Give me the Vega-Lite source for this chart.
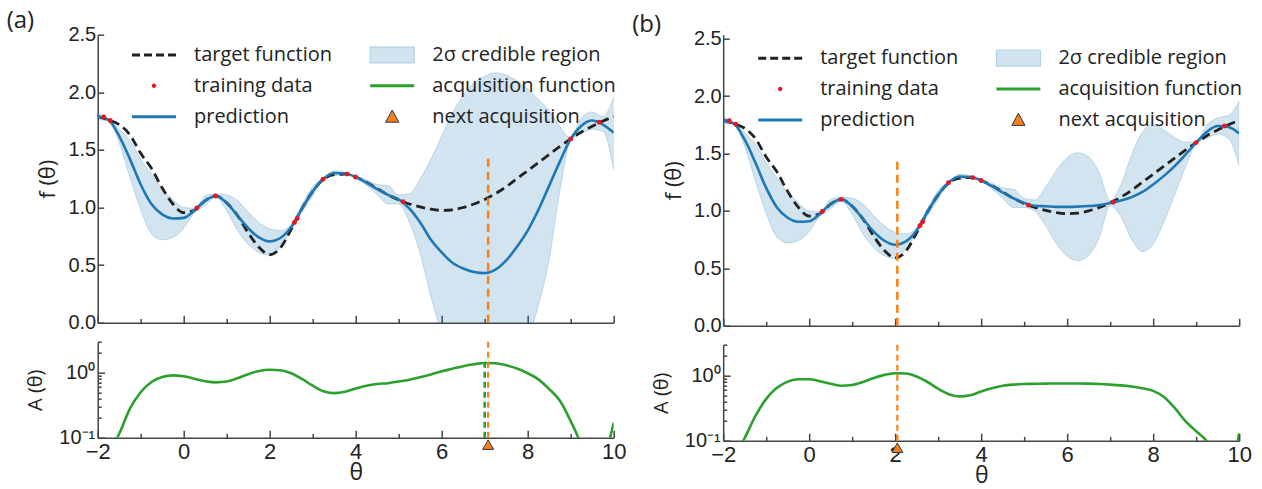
{
"$schema": "https://vega.github.io/schema/vega-lite/v6.json",
"background": "white",
"padding": {"left": 6.7, "top": 8.7, "right": 0, "bottom": 0},
"config": {
  "view": {"stroke": null},
  "axis": {"grid": false, "domainColor": "#444", "domainWidth": 1.5, "tickColor": "#444", "tickWidth": 1.5, "labelFont": "Liberation Sans", "labelColor": "#222", "titleFont": "Open Sans", "titleFontWeight": "normal", "titleColor": "#222"},
  "title": {"font": "Open Sans", "fontWeight": "normal", "fontSize": 24, "color": "#222"},
  "legend": {"title": null, "orient": "none", "columns": 2, "symbolSize": 400, "symbolStrokeWidth": 1, "symbolOpacity": 1, "labelFont": "Open Sans", "labelFontSize": 20, "labelColor": "#222", "labelOffset": 29.5, "labelLimit": 400, "rowPadding": 10, "columnPadding": 35.2, "padding": 0}
},
"datasets": {
  "curveA": [
    {"t": -2, "target": 1.79, "pred": 1.79, "lo": 1.76, "hi": 1.82},
    {"t": -1.75, "target": 1.76, "pred": 1.76, "lo": 1.755, "hi": 1.768},
    {"t": -1.5, "target": 1.72, "pred": 1.62, "lo": 1.56, "hi": 1.68},
    {"t": -1.25, "target": 1.63, "pred": 1.42, "lo": 1.26, "hi": 1.58},
    {"t": -1, "target": 1.47, "pred": 1.2, "lo": 0.98, "hi": 1.42},
    {"t": -0.75, "target": 1.34, "pred": 1.03, "lo": 0.77, "hi": 1.29},
    {"t": -0.5, "target": 1.17, "pred": 0.94, "lo": 0.72, "hi": 1.16},
    {"t": -0.25, "target": 1.03, "pred": 0.905, "lo": 0.74, "hi": 1.07},
    {"t": 0, "target": 0.955, "pred": 0.91, "lo": 0.82, "hi": 1.0},
    {"t": 0.25, "target": 0.975, "pred": 0.975, "lo": 0.955, "hi": 0.995},
    {"t": 0.5, "target": 1.06, "pred": 1.06, "lo": 1.02, "hi": 1.1},
    {"t": 0.75, "target": 1.1, "pred": 1.1, "lo": 1.085, "hi": 1.12},
    {"t": 1, "target": 1.04, "pred": 1.04, "lo": 0.97, "hi": 1.11},
    {"t": 1.25, "target": 0.93, "pred": 0.93, "lo": 0.8, "hi": 1.06},
    {"t": 1.5, "target": 0.78, "pred": 0.82, "lo": 0.68, "hi": 0.96},
    {"t": 1.75, "target": 0.655, "pred": 0.74, "lo": 0.61, "hi": 0.87},
    {"t": 2, "target": 0.59, "pred": 0.705, "lo": 0.585, "hi": 0.815},
    {"t": 2.25, "target": 0.65, "pred": 0.735, "lo": 0.665, "hi": 0.8},
    {"t": 2.5, "target": 0.81, "pred": 0.83, "lo": 0.805, "hi": 0.855},
    {"t": 2.75, "target": 0.99, "pred": 0.99, "lo": 0.96, "hi": 1.02},
    {"t": 3, "target": 1.14, "pred": 1.14, "lo": 1.1, "hi": 1.18},
    {"t": 3.25, "target": 1.245, "pred": 1.25, "lo": 1.245, "hi": 1.255},
    {"t": 3.5, "target": 1.285, "pred": 1.3, "lo": 1.275, "hi": 1.32},
    {"t": 3.75, "target": 1.29, "pred": 1.295, "lo": 1.285, "hi": 1.305},
    {"t": 4, "target": 1.265, "pred": 1.265, "lo": 1.26, "hi": 1.27},
    {"t": 4.25, "target": 1.22, "pred": 1.215, "lo": 1.19, "hi": 1.24},
    {"t": 4.5, "target": 1.165, "pred": 1.16, "lo": 1.11, "hi": 1.2},
    {"t": 4.75, "target": 1.11, "pred": 1.11, "lo": 1.03, "hi": 1.19},
    {"t": 5, "target": 1.065, "pred": 1.07, "lo": 1.03, "hi": 1.11},
    {"t": 5.25, "target": 1.03, "pred": 0.99, "lo": 0.87, "hi": 1.12},
    {"t": 5.5, "target": 1.005, "pred": 0.87, "lo": 0.6, "hi": 1.25},
    {"t": 5.75, "target": 0.985, "pred": 0.72, "lo": 0.22, "hi": 1.42},
    {"t": 6, "target": 0.975, "pred": 0.61, "lo": -0.1, "hi": 1.62},
    {"t": 6.25, "target": 0.98, "pred": 0.52, "lo": -0.5, "hi": 1.82},
    {"t": 6.5, "target": 1.0, "pred": 0.47, "lo": -0.9, "hi": 1.97},
    {"t": 6.75, "target": 1.03, "pred": 0.44, "lo": -1.1, "hi": 2.08},
    {"t": 7, "target": 1.07, "pred": 0.43, "lo": -1.2, "hi": 2.14},
    {"t": 7.25, "target": 1.12, "pred": 0.46, "lo": -1.1, "hi": 2.17},
    {"t": 7.5, "target": 1.18, "pred": 0.54, "lo": -0.8, "hi": 2.15},
    {"t": 7.75, "target": 1.25, "pred": 0.66, "lo": -0.45, "hi": 2.1},
    {"t": 8, "target": 1.32, "pred": 0.8, "lo": -0.15, "hi": 2.03},
    {"t": 8.25, "target": 1.39, "pred": 0.98, "lo": 0.15, "hi": 1.94},
    {"t": 8.5, "target": 1.46, "pred": 1.19, "lo": 0.55, "hi": 1.84},
    {"t": 8.75, "target": 1.53, "pred": 1.4, "lo": 1.15, "hi": 1.7},
    {"t": 9, "target": 1.595, "pred": 1.595, "lo": 1.585, "hi": 1.605},
    {"t": 9.25, "target": 1.655, "pred": 1.71, "lo": 1.64, "hi": 1.78},
    {"t": 9.5, "target": 1.705, "pred": 1.755, "lo": 1.68, "hi": 1.83},
    {"t": 9.75, "target": 1.75, "pred": 1.72, "lo": 1.66, "hi": 1.79},
    {"t": 10, "target": 1.79, "pred": 1.65, "lo": 1.33, "hi": 1.96}
  ],
  "curveB": [
    {"t": -2, "target": 1.79, "pred": 1.79, "lo": 1.76, "hi": 1.82},
    {"t": -1.75, "target": 1.76, "pred": 1.76, "lo": 1.755, "hi": 1.768},
    {"t": -1.5, "target": 1.72, "pred": 1.62, "lo": 1.56, "hi": 1.68},
    {"t": -1.25, "target": 1.63, "pred": 1.42, "lo": 1.26, "hi": 1.58},
    {"t": -1, "target": 1.47, "pred": 1.2, "lo": 0.98, "hi": 1.42},
    {"t": -0.75, "target": 1.34, "pred": 1.03, "lo": 0.77, "hi": 1.29},
    {"t": -0.5, "target": 1.17, "pred": 0.94, "lo": 0.72, "hi": 1.16},
    {"t": -0.25, "target": 1.03, "pred": 0.905, "lo": 0.74, "hi": 1.07},
    {"t": 0, "target": 0.955, "pred": 0.91, "lo": 0.82, "hi": 1.0},
    {"t": 0.25, "target": 0.975, "pred": 0.975, "lo": 0.955, "hi": 0.995},
    {"t": 0.5, "target": 1.06, "pred": 1.06, "lo": 1.02, "hi": 1.1},
    {"t": 0.75, "target": 1.1, "pred": 1.1, "lo": 1.085, "hi": 1.12},
    {"t": 1, "target": 1.04, "pred": 1.04, "lo": 0.97, "hi": 1.11},
    {"t": 1.25, "target": 0.93, "pred": 0.93, "lo": 0.8, "hi": 1.06},
    {"t": 1.5, "target": 0.78, "pred": 0.82, "lo": 0.68, "hi": 0.96},
    {"t": 1.75, "target": 0.655, "pred": 0.74, "lo": 0.61, "hi": 0.87},
    {"t": 2, "target": 0.59, "pred": 0.705, "lo": 0.585, "hi": 0.815},
    {"t": 2.25, "target": 0.65, "pred": 0.735, "lo": 0.665, "hi": 0.8},
    {"t": 2.5, "target": 0.81, "pred": 0.83, "lo": 0.805, "hi": 0.855},
    {"t": 2.75, "target": 0.99, "pred": 0.99, "lo": 0.96, "hi": 1.02},
    {"t": 3, "target": 1.14, "pred": 1.14, "lo": 1.1, "hi": 1.18},
    {"t": 3.25, "target": 1.245, "pred": 1.25, "lo": 1.245, "hi": 1.255},
    {"t": 3.5, "target": 1.285, "pred": 1.3, "lo": 1.275, "hi": 1.32},
    {"t": 3.75, "target": 1.29, "pred": 1.295, "lo": 1.285, "hi": 1.305},
    {"t": 4, "target": 1.265, "pred": 1.265, "lo": 1.26, "hi": 1.27},
    {"t": 4.25, "target": 1.22, "pred": 1.215, "lo": 1.19, "hi": 1.24},
    {"t": 4.5, "target": 1.165, "pred": 1.16, "lo": 1.11, "hi": 1.2},
    {"t": 4.75, "target": 1.11, "pred": 1.11, "lo": 1.03, "hi": 1.19},
    {"t": 5, "target": 1.065, "pred": 1.07, "lo": 1.03, "hi": 1.11},
    {"t": 5.25, "target": 1.03, "pred": 1.045, "lo": 0.995, "hi": 1.095},
    {"t": 5.5, "target": 1.005, "pred": 1.04, "lo": 0.87, "hi": 1.21},
    {"t": 5.75, "target": 0.985, "pred": 1.035, "lo": 0.715, "hi": 1.355},
    {"t": 6, "target": 0.975, "pred": 1.035, "lo": 0.605, "hi": 1.465},
    {"t": 6.25, "target": 0.98, "pred": 1.037, "lo": 0.567, "hi": 1.507},
    {"t": 6.5, "target": 1.0, "pred": 1.042, "lo": 0.612, "hi": 1.472},
    {"t": 6.75, "target": 1.03, "pred": 1.05, "lo": 0.77, "hi": 1.33},
    {"t": 7, "target": 1.07, "pred": 1.068, "lo": 1.045, "hi": 1.09},
    {"t": 7.25, "target": 1.12, "pred": 1.09, "lo": 0.95, "hi": 1.23},
    {"t": 7.5, "target": 1.18, "pred": 1.12, "lo": 0.75, "hi": 1.49},
    {"t": 7.75, "target": 1.25, "pred": 1.165, "lo": 0.645, "hi": 1.685},
    {"t": 8, "target": 1.32, "pred": 1.23, "lo": 0.71, "hi": 1.75},
    {"t": 8.25, "target": 1.39, "pred": 1.305, "lo": 0.905, "hi": 1.705},
    {"t": 8.5, "target": 1.46, "pred": 1.39, "lo": 1.14, "hi": 1.64},
    {"t": 8.75, "target": 1.53, "pred": 1.49, "lo": 1.38, "hi": 1.6},
    {"t": 9, "target": 1.595, "pred": 1.595, "lo": 1.585, "hi": 1.605},
    {"t": 9.25, "target": 1.655, "pred": 1.69, "lo": 1.63, "hi": 1.75},
    {"t": 9.5, "target": 1.705, "pred": 1.74, "lo": 1.67, "hi": 1.81},
    {"t": 9.75, "target": 1.75, "pred": 1.73, "lo": 1.63, "hi": 1.83},
    {"t": 10, "target": 1.79, "pred": 1.675, "lo": 1.395, "hi": 1.955}
  ],
  "acqA": [
    {"t": -2, "a": 0.02}, {"t": -1.75, "a": 0.055}, {"t": -1.5, "a": 0.115}, {"t": -1.25, "a": 0.28},
    {"t": -1, "a": 0.5}, {"t": -0.75, "a": 0.72}, {"t": -0.5, "a": 0.86}, {"t": -0.25, "a": 0.91},
    {"t": 0, "a": 0.88}, {"t": 0.25, "a": 0.81}, {"t": 0.5, "a": 0.74}, {"t": 0.75, "a": 0.71},
    {"t": 1, "a": 0.73}, {"t": 1.25, "a": 0.82}, {"t": 1.5, "a": 0.95}, {"t": 1.75, "a": 1.06},
    {"t": 2, "a": 1.11}, {"t": 2.25, "a": 1.09}, {"t": 2.5, "a": 0.98}, {"t": 2.75, "a": 0.8},
    {"t": 3, "a": 0.63}, {"t": 3.25, "a": 0.52}, {"t": 3.5, "a": 0.485}, {"t": 3.75, "a": 0.51},
    {"t": 4, "a": 0.57}, {"t": 4.25, "a": 0.63}, {"t": 4.5, "a": 0.67}, {"t": 4.75, "a": 0.69},
    {"t": 5, "a": 0.73}, {"t": 5.25, "a": 0.78}, {"t": 5.5, "a": 0.85}, {"t": 5.75, "a": 0.94},
    {"t": 6, "a": 1.05}, {"t": 6.25, "a": 1.15}, {"t": 6.5, "a": 1.26}, {"t": 6.75, "a": 1.35},
    {"t": 7, "a": 1.41}, {"t": 7.25, "a": 1.4}, {"t": 7.5, "a": 1.3}, {"t": 7.75, "a": 1.16},
    {"t": 8, "a": 0.98}, {"t": 8.25, "a": 0.79}, {"t": 8.5, "a": 0.56}, {"t": 8.75, "a": 0.37},
    {"t": 9, "a": 0.18}, {"t": 9.25, "a": 0.075}, {"t": 9.5, "a": 0.02}, {"t": 9.75, "a": 0.04},
    {"t": 10, "a": 0.17}
  ],
  "acqB": [
    {"t": -2, "a": 0.02}, {"t": -1.75, "a": 0.055}, {"t": -1.5, "a": 0.11}, {"t": -1.25, "a": 0.24},
    {"t": -1, "a": 0.44}, {"t": -0.75, "a": 0.65}, {"t": -0.5, "a": 0.81}, {"t": -0.25, "a": 0.88},
    {"t": 0, "a": 0.88}, {"t": 0.25, "a": 0.82}, {"t": 0.5, "a": 0.75}, {"t": 0.75, "a": 0.7},
    {"t": 1, "a": 0.72}, {"t": 1.25, "a": 0.8}, {"t": 1.5, "a": 0.92}, {"t": 1.75, "a": 1.03},
    {"t": 2, "a": 1.09}, {"t": 2.25, "a": 1.08}, {"t": 2.5, "a": 0.97}, {"t": 2.75, "a": 0.8},
    {"t": 3, "a": 0.63}, {"t": 3.25, "a": 0.52}, {"t": 3.5, "a": 0.48}, {"t": 3.75, "a": 0.5},
    {"t": 4, "a": 0.57}, {"t": 4.25, "a": 0.64}, {"t": 4.5, "a": 0.7}, {"t": 4.75, "a": 0.73},
    {"t": 5, "a": 0.745}, {"t": 5.25, "a": 0.75}, {"t": 5.5, "a": 0.755}, {"t": 5.75, "a": 0.76},
    {"t": 6, "a": 0.76}, {"t": 6.25, "a": 0.76}, {"t": 6.5, "a": 0.755}, {"t": 6.75, "a": 0.745},
    {"t": 7, "a": 0.73}, {"t": 7.25, "a": 0.71}, {"t": 7.5, "a": 0.68}, {"t": 7.75, "a": 0.64},
    {"t": 8, "a": 0.585}, {"t": 8.25, "a": 0.47}, {"t": 8.5, "a": 0.32}, {"t": 8.75, "a": 0.2},
    {"t": 9, "a": 0.14}, {"t": 9.25, "a": 0.098}, {"t": 9.5, "a": 0.05}, {"t": 9.75, "a": 0.03},
    {"t": 10, "a": 0.13}
  ],
  "trainA": [
    {"t": -1.86, "f": 1.785}, {"t": -1.71, "f": 1.755}, {"t": 0.305, "f": 0.995}, {"t": 0.74, "f": 1.1},
    {"t": 2.575, "f": 0.87}, {"t": 2.64, "f": 0.905}, {"t": 3.24, "f": 1.245}, {"t": 3.8, "f": 1.29},
    {"t": 3.995, "f": 1.265}, {"t": 5.1, "f": 1.05}, {"t": 9.0, "f": 1.595}, {"t": 9.66, "f": 1.74}
  ],
  "trainB": [
    {"t": -1.86, "f": 1.785}, {"t": -1.71, "f": 1.755}, {"t": 0.305, "f": 0.995}, {"t": 0.74, "f": 1.1},
    {"t": 2.575, "f": 0.87}, {"t": 2.64, "f": 0.905}, {"t": 3.24, "f": 1.245}, {"t": 3.8, "f": 1.29},
    {"t": 3.995, "f": 1.265}, {"t": 5.1, "f": 1.05}, {"t": 7.07, "f": 1.075}, {"t": 9.0, "f": 1.595}, {"t": 9.66, "f": 1.74}
  ],
  "nextA": [{"t": 7.08, "f0": 0, "f1": 1.45, "a0": 0.1, "a1": 3}],
  "nextB": [{"t": 2.05, "f0": 0, "f1": 1.45, "a0": 0.1, "a1": 3}],
  "maxA": [{"t": 7.0, "a0": 0.1, "a1": 1.41}],
  "legendItems": [
    {"item": "target function"}, {"item": "training data"}, {"item": "prediction"},
    {"item": "2σ credible region"}, {"item": "acquisition function"}, {"item": "next acquisition"}
  ]
},
"hconcat": [
  {
    "vconcat": [
      {
        "width": 516, "height": 288,
        "title": {"text": "(a)", "anchor": "start", "frame": "group", "dx": -91, "offset": 0, "baseline": "alphabetic", "dy": 27.2},
        "layer": [
          {"data": {"name": "curveA"},
           "mark": {"type": "area", "clip": true, "interpolate": "monotone", "fill": "#1f77b4", "fillOpacity": 0.2, "stroke": "#1f77b4", "strokeOpacity": 0.22, "strokeWidth": 1},
           "encoding": {
             "x": {"field": "t", "type": "quantitative", "scale": {"domain": [-2, 10], "nice": false, "zero": false},
                   "axis": {"title": null, "labels": false, "values": [-2, -1, 0, 1, 2, 3, 4, 5, 6, 7, 8, 9, 10], "tickSize": {"condition": {"test": "datum.value % 2 === 0", "value": -7.5}, "value": -4.3}}},
             "y": {"field": "lo", "type": "quantitative", "scale": {"domain": [0, 2.5], "nice": false, "zero": false},
                   "axis": {"title": "f (θ)", "values": [0, 0.5, 1, 1.5, 2, 2.5], "format": ".1f", "tickSize": -6, "labelPadding": 8, "labelFontSize": 20, "titleFontSize": 22, "titleX": -38}},
             "y2": {"field": "hi"}}},
          {"data": {"name": "curveA"},
           "mark": {"type": "line", "clip": true, "interpolate": "monotone", "color": "#222222", "strokeWidth": 2.8, "strokeDash": [9, 5]},
           "encoding": {"x": {"field": "t", "type": "quantitative"}, "y": {"field": "target", "type": "quantitative"}}},
          {"data": {"name": "curveA"},
           "mark": {"type": "line", "clip": true, "interpolate": "monotone", "color": "#1f77b4", "strokeWidth": 2.6},
           "encoding": {"x": {"field": "t", "type": "quantitative"}, "y": {"field": "pred", "type": "quantitative"}}},
          {"data": {"name": "nextA"},
           "mark": {"type": "rule", "color": "#ff7f0e", "strokeWidth": 2.5, "strokeDash": [8, 5]},
           "encoding": {"x": {"field": "t", "type": "quantitative"}, "y": {"field": "f0", "type": "quantitative"}, "y2": {"field": "f1"}}},
          {"data": {"name": "trainA"},
           "mark": {"type": "point", "filled": true, "color": "#e8161e", "size": 24, "opacity": 1},
           "encoding": {"x": {"field": "t", "type": "quantitative"}, "y": {"field": "f", "type": "quantitative"}}},
          {"data": {"name": "legendItems"},
           "mark": {"type": "point", "opacity": 0},
           "encoding": {
             "shape": {"field": "item", "type": "nominal",
               "scale": {"domain": ["target function", "training data", "prediction", "2σ credible region", "acquisition function", "next acquisition"],
                         "range": ["M-2.2,-0.15H-1.4V0.15H-2.2Z M-1,-0.15H-0.2V0.15H-1Z M0.2,-0.15H1V0.15H0.2Z M1.4,-0.15H2.2V0.15H1.4Z",
                                   "M-0.22,0A0.22,0.22,0,1,1,0.22,0A0.22,0.22,0,1,1,-0.22,0Z",
                                   "M-2.2,-0.15H2.2V0.15H-2.2Z",
                                   "M-2.2,-0.8H2.2V0.8H-2.2Z",
                                   "M-2.2,-0.15H2.2V0.15H-2.2Z",
                                   "M0,-0.66L0.66,0.55H-0.66Z"]},
               "legend": {"legendX": 45.8, "legendY": 9.5}},
             "fill": {"field": "item", "type": "nominal",
               "scale": {"domain": ["target function", "training data", "prediction", "2σ credible region", "acquisition function", "next acquisition"],
                         "range": ["#222222", "#e8161e", "#1f77b4", "#d2e3f0", "#2ca02c", "#f58220"]},
               "legend": {"legendX": 45.8, "legendY": 9.5}},
             "stroke": {"field": "item", "type": "nominal",
               "scale": {"domain": ["target function", "training data", "prediction", "2σ credible region", "acquisition function", "next acquisition"],
                         "range": ["transparent", "transparent", "transparent", "#a9cce6", "transparent", "#333333"]},
               "legend": {"legendX": 45.8, "legendY": 9.5}}}}
        ]
      },
      {
        "width": 516, "height": 96,
        "layer": [
          {"data": {"name": "acqA"},
           "mark": {"type": "line", "clip": true, "interpolate": "monotone", "color": "#2ca02c", "strokeWidth": 2.6},
           "encoding": {
             "x": {"field": "t", "type": "quantitative", "scale": {"domain": [-2, 10], "nice": false, "zero": false},
                   "axis": {"title": "θ", "values": [-2, -1, 0, 1, 2, 3, 4, 5, 6, 7, 8, 9, 10], "labelExpr": "datum.value % 2 === 0 ? datum.label : ''", "tickSize": {"condition": {"test": "datum.value % 2 === 0", "value": -7.5}, "value": -4.3}, "labelPadding": 11.2, "labelFontSize": 22, "labelFlush": false, "labelOverlap": false, "titleFontSize": 23, "titleY": 35, "titleBaseline": "middle"}},
             "y": {"field": "a", "type": "quantitative", "scale": {"type": "log", "domain": [0.1, 3], "nice": false},
                   "axis": {"title": "A (θ)", "values": [0.1, 0.2, 0.3, 0.4, 0.5, 0.6, 0.7, 0.8, 0.9, 1, 2, 3], "labelExpr": "datum.value === 1 ? '10⁰' : (datum.value === 0.1 ? '10⁻¹' : '')", "tickSize": {"condition": {"test": "datum.value === 1 || datum.value === 0.1", "value": -7}, "value": -3.5}, "labelPadding": 10, "labelFontSize": 20, "labelOverlap": false, "titleFontSize": 20, "titleX": -52}}}},
          {"data": {"name": "maxA"},
           "mark": {"type": "rule", "color": "#2ca02c", "strokeWidth": 2.6, "strokeDash": [6, 4]},
           "encoding": {"x": {"field": "t", "type": "quantitative"}, "y": {"field": "a0", "type": "quantitative"}, "y2": {"field": "a1"}}},
          {"data": {"name": "nextA"},
           "mark": {"type": "rule", "color": "#ff7f0e", "strokeWidth": 2.2, "strokeDash": [6, 4]},
           "encoding": {"x": {"field": "t", "type": "quantitative"}, "y": {"field": "a0", "type": "quantitative"}, "y2": {"field": "a1"}}},
          {"data": {"name": "nextA"},
           "mark": {"type": "point", "shape": "triangle-up", "filled": true, "fill": "#f58220", "stroke": "#333333", "strokeWidth": 1, "size": 120, "opacity": 1, "yOffset": 7},
           "encoding": {"x": {"field": "t", "type": "quantitative"}, "y": {"field": "a0", "type": "quantitative"}}}
        ]
      }
    ],
    "spacing": 19,
    "bounds": "flush",
    "resolve": {"scale": {"shape": "independent", "fill": "independent", "stroke": "independent"}}
  },
  {
    "vconcat": [
      {
        "width": 516, "height": 291,
        "title": {"text": "(b)", "anchor": "start", "frame": "group", "dx": -91, "offset": 0, "baseline": "alphabetic", "dy": 27.2},
        "layer": [
          {"data": {"name": "curveB"},
           "mark": {"type": "area", "clip": true, "interpolate": "monotone", "fill": "#1f77b4", "fillOpacity": 0.2, "stroke": "#1f77b4", "strokeOpacity": 0.22, "strokeWidth": 1},
           "encoding": {
             "x": {"field": "t", "type": "quantitative", "scale": {"domain": [-2, 10], "nice": false, "zero": false},
                   "axis": {"title": null, "labels": false, "values": [-2, -1, 0, 1, 2, 3, 4, 5, 6, 7, 8, 9, 10], "tickSize": {"condition": {"test": "datum.value % 2 === 0", "value": -7.5}, "value": -4.3}}},
             "y": {"field": "lo", "type": "quantitative", "scale": {"domain": [0, 2.5348], "nice": false, "zero": false},
                   "axis": {"title": "f (θ)", "values": [0, 0.5, 1, 1.5, 2, 2.5], "format": ".1f", "tickSize": -6, "labelPadding": 8, "labelFontSize": 20, "titleFontSize": 22, "titleX": -38}},
             "y2": {"field": "hi"}}},
          {"data": {"name": "curveB"},
           "mark": {"type": "line", "clip": true, "interpolate": "monotone", "color": "#222222", "strokeWidth": 2.8, "strokeDash": [9, 5]},
           "encoding": {"x": {"field": "t", "type": "quantitative"}, "y": {"field": "target", "type": "quantitative"}}},
          {"data": {"name": "curveB"},
           "mark": {"type": "line", "clip": true, "interpolate": "monotone", "color": "#1f77b4", "strokeWidth": 2.6},
           "encoding": {"x": {"field": "t", "type": "quantitative"}, "y": {"field": "pred", "type": "quantitative"}}},
          {"data": {"name": "nextB"},
           "mark": {"type": "rule", "color": "#ff7f0e", "strokeWidth": 2.5, "strokeDash": [8, 5]},
           "encoding": {"x": {"field": "t", "type": "quantitative"}, "y": {"field": "f0", "type": "quantitative"}, "y2": {"field": "f1"}}},
          {"data": {"name": "trainB"},
           "mark": {"type": "point", "filled": true, "color": "#e8161e", "size": 24, "opacity": 1},
           "encoding": {"x": {"field": "t", "type": "quantitative"}, "y": {"field": "f", "type": "quantitative"}}},
          {"data": {"name": "legendItems"},
           "mark": {"type": "point", "opacity": 0},
           "encoding": {
             "shape": {"field": "item", "type": "nominal",
               "scale": {"domain": ["target function", "training data", "prediction", "2σ credible region", "acquisition function", "next acquisition"],
                         "range": ["M-2.2,-0.15H-1.4V0.15H-2.2Z M-1,-0.15H-0.2V0.15H-1Z M0.2,-0.15H1V0.15H0.2Z M1.4,-0.15H2.2V0.15H1.4Z",
                                   "M-0.22,0A0.22,0.22,0,1,1,0.22,0A0.22,0.22,0,1,1,-0.22,0Z",
                                   "M-2.2,-0.15H2.2V0.15H-2.2Z",
                                   "M-2.2,-0.8H2.2V0.8H-2.2Z",
                                   "M-2.2,-0.15H2.2V0.15H-2.2Z",
                                   "M0,-0.66L0.66,0.55H-0.66Z"]},
               "legend": {"legendX": 46.5, "legendY": 12.7}},
             "fill": {"field": "item", "type": "nominal",
               "scale": {"domain": ["target function", "training data", "prediction", "2σ credible region", "acquisition function", "next acquisition"],
                         "range": ["#222222", "#e8161e", "#1f77b4", "#d2e3f0", "#2ca02c", "#f58220"]},
               "legend": {"legendX": 46.5, "legendY": 12.7}},
             "stroke": {"field": "item", "type": "nominal",
               "scale": {"domain": ["target function", "training data", "prediction", "2σ credible region", "acquisition function", "next acquisition"],
                         "range": ["transparent", "transparent", "transparent", "#a9cce6", "transparent", "#333333"]},
               "legend": {"legendX": 46.5, "legendY": 12.7}}}}
        ]
      },
      {
        "width": 516, "height": 96,
        "layer": [
          {"data": {"name": "acqB"},
           "mark": {"type": "line", "clip": true, "interpolate": "monotone", "color": "#2ca02c", "strokeWidth": 2.6},
           "encoding": {
             "x": {"field": "t", "type": "quantitative", "scale": {"domain": [-2, 10], "nice": false, "zero": false},
                   "axis": {"title": "θ", "values": [-2, -1, 0, 1, 2, 3, 4, 5, 6, 7, 8, 9, 10], "labelExpr": "datum.value % 2 === 0 ? datum.label : ''", "tickSize": {"condition": {"test": "datum.value % 2 === 0", "value": -7.5}, "value": -4.3}, "labelPadding": 11.2, "labelFontSize": 22, "labelFlush": false, "labelOverlap": false, "titleFontSize": 23, "titleY": 35, "titleBaseline": "middle"}},
             "y": {"field": "a", "type": "quantitative", "scale": {"type": "log", "domain": [0.1, 3], "nice": false},
                   "axis": {"title": "A (θ)", "values": [0.1, 0.2, 0.3, 0.4, 0.5, 0.6, 0.7, 0.8, 0.9, 1, 2, 3], "labelExpr": "datum.value === 1 ? '10⁰' : (datum.value === 0.1 ? '10⁻¹' : '')", "tickSize": {"condition": {"test": "datum.value === 1 || datum.value === 0.1", "value": -7}, "value": -3.5}, "labelPadding": 10, "labelFontSize": 20, "labelOverlap": false, "titleFontSize": 20, "titleX": -52}}}},
          {"data": {"name": "nextB"},
           "mark": {"type": "rule", "color": "#ff7f0e", "strokeWidth": 2.2, "strokeDash": [6, 4]},
           "encoding": {"x": {"field": "t", "type": "quantitative"}, "y": {"field": "a0", "type": "quantitative"}, "y2": {"field": "a1"}}},
          {"data": {"name": "nextB"},
           "mark": {"type": "point", "shape": "triangle-up", "filled": true, "fill": "#f58220", "stroke": "#333333", "strokeWidth": 1, "size": 120, "opacity": 1, "yOffset": 7},
           "encoding": {"x": {"field": "t", "type": "quantitative"}, "y": {"field": "a0", "type": "quantitative"}}}
        ]
      }
    ],
    "spacing": 19,
    "bounds": "flush",
    "resolve": {"scale": {"shape": "independent", "fill": "independent", "stroke": "independent"}}
  }
],
"spacing": 5.5,
"resolve": {"scale": {"shape": "independent", "fill": "independent", "stroke": "independent"}}
}
